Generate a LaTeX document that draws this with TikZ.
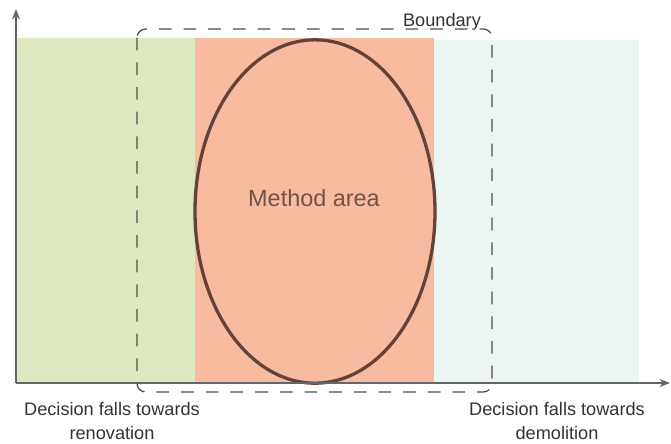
\documentclass[tikz,border=0pt]{standalone}
\usepackage{fontspec}
\setmainfont{Liberation Sans}
\usetikzlibrary{arrows.meta,shapes.geometric}
\definecolor{renogreen}{HTML}{DDE8BF}
\definecolor{methodsalmon}{HTML}{F9BBA0}
\definecolor{demolight}{HTML}{ECF5F2}
\definecolor{ovalbrown}{HTML}{634238}
\definecolor{methodtext}{HTML}{735248}
\definecolor{labelgrey}{HTML}{333333}
\definecolor{axisgrey}{HTML}{666666}
\definecolor{dashgrey}{HTML}{4D4D4D}
\tikzset{
  axis/.style={draw=axisgrey,line width=1.2pt,-{Stealth[length=9pt,width=7pt]}},
  boundarybox/.style={draw=dashgrey,line width=1.1pt,dash pattern=on 0.38cm off 0.36cm,rounded corners=0.26cm},
  sidelabel/.style={align=center,text=labelgrey,font=\fontsize{15.5}{20}\selectfont},
}
\begin{document}
\begin{tikzpicture}[x=0.03cm,y=-0.03cm]
  \useasboundingbox (0,0) rectangle (671,443);
  % zones
  \fill[renogreen] (16,38) rectangle (195,383);
  \fill[methodsalmon] (195,38) rectangle (434,383);
  \fill[demolight] (434,40) rectangle (639,383);

  \node[draw=ovalbrown,line width=2.8pt,ellipse,minimum width=7.2cm,minimum height=10.3cm,inner sep=0pt] (method) at (315,211.5) {};
  \node[text=methodtext,font=\fontsize{20}{24}\selectfont] (methodlabel) at (314,198) {Method area};

  % axes
  \coordinate (origin) at (16,383);
  \coordinate (ytop) at (16,9);
  \coordinate (xend) at (670,383);
  \draw[axis] (origin) -- (ytop);
  \draw[axis] (origin) -- (xend);

  % boundary
  \draw[boundarybox] (137,29) rectangle (492,392);
  \node[sidelabel,anchor=base] (boundary) at (442,26) {Boundary};

  \node[sidelabel] (reno) at (112,421) {Decision falls towards\\renovation};
  \node[sidelabel] (demo) at (557,421) {Decision falls towards\\demolition};
\end{tikzpicture}
\end{document}
